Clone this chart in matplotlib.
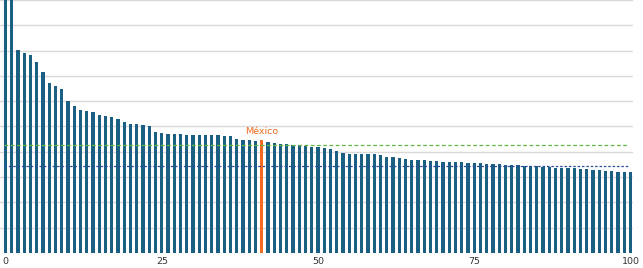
#!/usr/bin/env python3

# numpy
import numpy as np
# plotting
import matplotlib.pyplot as plt

# ranking positions (one bar per position)
positions = list(range(101))
# bar heights (grid step = 10)
values = [
    120.0, 112.0, 80.4, 79.1, 78.3, 75.5, 71.5, 67.1, 66.0, 64.8,
    60.2, 58.1, 56.5, 56.2, 55.6, 54.4, 54.3, 53.6, 52.8, 51.8,
    51.0, 50.8, 50.5, 50.2, 47.7, 47.3, 47.0, 47.0, 47.0, 46.8,
    46.7, 46.7, 46.7, 46.7, 46.5, 46.4, 46.1, 45.2, 44.8, 44.5,
    44.4, 44.6, 44.0, 43.5, 43.2, 43.0, 42.7, 42.6, 42.4, 42.0,
    41.8, 41.6, 41.1, 40.3, 39.6, 39.2, 39.2, 39.2, 39.2, 39.1,
    38.6, 38.1, 37.8, 37.7, 37.3, 36.9, 36.9, 36.8, 36.5, 36.4,
    36.1, 36.0, 36.0, 35.8, 35.6, 35.5, 35.4, 35.2, 35.2, 35.0,
    34.8, 34.7, 34.7, 34.5, 34.3, 34.3, 34.0, 33.9, 33.7, 33.7,
    33.6, 33.6, 33.3, 33.2, 32.8, 32.7, 32.4, 32.3, 32.0, 32.0,
    32.0,
]
# highlighted country
highlight_name = "México"
highlight_index = 41
# reference lines
green_level = 42.7
blue_level = 34.5
# x tick labels
xticks = [0, 25, 50, 75, 100]

def main():
    bar_color = "#1b5f82"
    orange = "#f26b21"
    fig = plt.figure(figsize=(6.43, 2.68), dpi=100)
    ax = fig.add_axes([0.0, 15 / 268, 633 / 643, 253 / 268])
    colors = [orange if i == highlight_index else bar_color for i in positions]
    ax.bar(positions, values, width=0.52, color=colors, zorder=2)
    # dashed reference lines
    ax.hlines(green_level, -0.3, 99.8, colors="#62b846", linestyles=(0, (3, 2)), linewidth=0.9, zorder=3)
    ax.hlines(blue_level, -0.3, 99.8, colors="#2a4b9b", linestyles=(0, (2, 1.5)), linewidth=0.9, zorder=3)
    # label of highlighted bar
    ax.text(highlight_index, values[highlight_index] + 1.5, highlight_name,
            ha="center", va="bottom", fontsize=6.8, color=orange)
    # axes
    ax.set_xlim(-0.9, 100.4)
    ax.set_ylim(0, 100)
    ax.set_yticks(np.arange(0, 101, 10))
    ax.set_yticklabels([])
    ax.set_xticks(xticks)
    ax.set_xticklabels([str(t) for t in xticks], fontsize=6.8, color="#333333")
    ax.tick_params(axis="both", length=0, pad=3)
    ax.grid(axis="y", color="#d9d9d9", linewidth=1.0, zorder=0)
    for spine in ax.spines.values():
        spine.set_visible(False)
    fig.savefig("out.png", dpi=100)

if __name__ == '__main__':
    main()
